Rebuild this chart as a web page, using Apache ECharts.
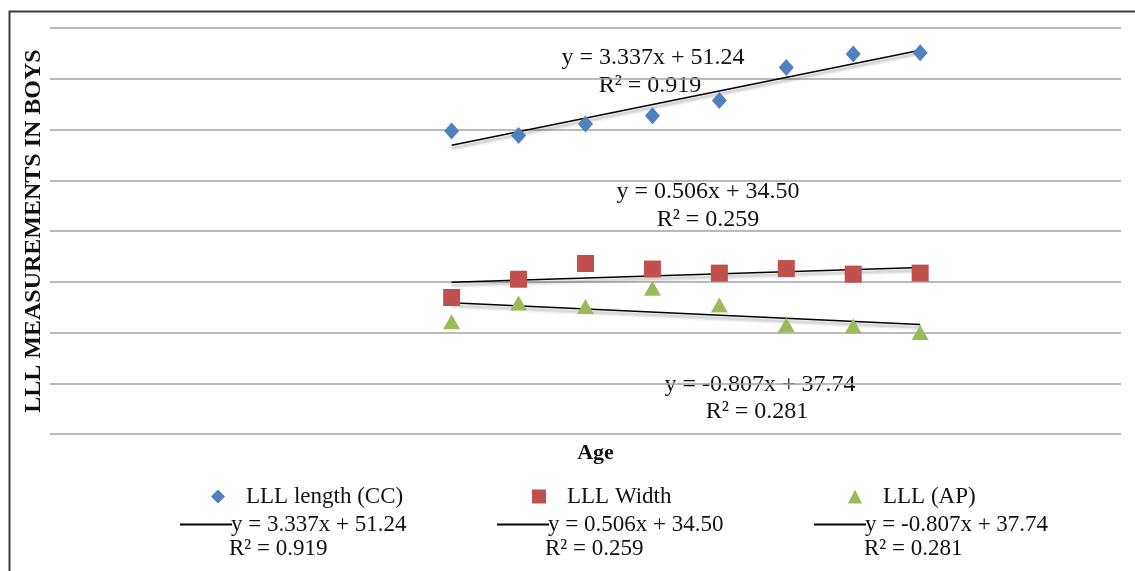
<!DOCTYPE html>
<html lang="en">
<head>
    <meta charset="UTF-8">
    <title>LLL measurements in boys</title>
    <script src="https://cdn.jsdelivr.net/npm/echarts@6/dist/echarts.min.js"></script>
    <style>
        html, body { margin: 0; padding: 0; background: #fff; }
    </style>
</head>
<body>
<div id="chart" style="width: 1135px; height: 571px"></div>
<script>
    // values (y axis 0..80, hidden labels)
    var ages = [1, 2, 3, 4, 5, 6, 7, 8];
    var lengthCC = [59.7, 58.8, 61.1, 62.7, 65.7, 72.2, 74.9, 75.1];
    var widthVals = [26.9, 30.5, 33.6, 32.5, 31.7, 32.6, 31.5, 31.7];
    var apVals = [22.1, 25.8, 25.1, 28.7, 25.4, 21.5, 21.3, 20.0];

    var seriesNames = ['LLL length (CC)', 'LLL Width', 'LLL (AP)'];
    var equations = ['y = 3.337x + 51.24', 'y = 0.506x + 34.50', 'y = -0.807x + 37.74'];
    var rSquared = ['R\u00b2 = 0.919', 'R\u00b2 = 0.259', 'R\u00b2 = 0.281'];

    var FONT = 'Liberation Serif';

    function pairs(ys) {
        return ages.map(function (a, i) { return [a, ys[i]]; });
    }

    // least squares line through the points, drawn from first to last age
    function trend(ys) {
        var n = ages.length, sx = 0, sy = 0, sxy = 0, sxx = 0;
        for (var i = 0; i < n; i++) {
            sx += ages[i]; sy += ys[i];
            sxy += ages[i] * ys[i]; sxx += ages[i] * ages[i];
        }
        var b = (n * sxy - sx * sy) / (n * sxx - sx * sx);
        var a = (sy - b * sx) / n;
        var x0 = ages[0], x1 = ages[n - 1];
        return [[x0, a + b * x0], [x1, a + b * x1]];
    }

    var myChart = echarts.init(document.getElementById('chart'));

    var trendStyle = {
        color: '#000',
        width: 1.5,
        shadowColor: 'rgba(0,0,0,0.4)',
        shadowBlur: 3,
        shadowOffsetY: 3
    };

    function trendSeries(name, ys) {
        return {
            name: name,
            type: 'line',
            data: trend(ys),
            showSymbol: false,
            silent: true,
            itemStyle: { color: '#000' },
            lineStyle: trendStyle,
            z: 3
        };
    }

    function markerLegend(name, left) {
        return {
            data: [name], left: left, top: 480,
            itemWidth: 14, itemHeight: 14,
            textStyle: { fontFamily: FONT, fontSize: 23, color: '#111', padding: [0, 0, 0, 16] }
        };
    }
    function lineLegend(name, left) {
        return {
            data: [{ name: name, icon: 'rect' }], left: left, top: 508,
            itemWidth: 52, itemHeight: 2,
            textStyle: { fontFamily: FONT, fontSize: 23, color: '#111', padding: [0, 0, 0, -6] }
        };
    }
    function note(text, x, y) {
        return {
            type: 'text', x: x, y: y,
            style: {
                text: text, fill: '#111',
                font: '24px "' + FONT + '"',
                textAlign: 'center', textVerticalAlign: 'middle'
            }
        };
    }
    function noteLeft(text, x, y) {
        var g = note(text, x, y);
        g.style.textAlign = 'left';
        g.style.font = '23px "' + FONT + '"';
        return g;
    }

    var option = {
        animation: false,
        grid: { left: 50, right: 14, top: 28, bottom: 137 },
        legend: [
            markerLegend(seriesNames[0], 206),
            markerLegend(seriesNames[1], 527),
            markerLegend(seriesNames[2], 843),
            lineLegend(equations[0], 175),
            lineLegend(equations[1], 492),
            lineLegend(equations[2], 809)
        ],
        xAxis: {
            type: 'value',
            min: -5, max: 11,
            name: 'Age',
            nameLocation: 'middle',
            nameGap: 8,
            nameTextStyle: { fontFamily: FONT, fontSize: 22, fontWeight: 'bold', color: '#111', padding: [0, 0, 0, 20] },
            axisLine: { show: false },
            axisTick: { show: false },
            axisLabel: { show: false },
            splitLine: { show: false }
        },
        yAxis: {
            type: 'value',
            min: 0, max: 80, interval: 10,
            name: 'LLL MEASUREMENTS IN BOYS',
            nameLocation: 'middle',
            nameGap: 4,
            nameTextStyle: { fontFamily: FONT, fontSize: 24, fontWeight: 'bold', color: '#111' },
            axisLine: { show: false },
            axisTick: { show: false },
            axisLabel: { show: false },
            splitLine: { lineStyle: { color: '#a3a3a3', width: 1.6 } }
        },
        graphic: [
            {
                type: 'rect', left: 7, top: 9, silent: true,
                shape: { width: 1300, height: 800 },
                style: { fill: 'none', stroke: '#3a3a3a', lineWidth: 2 }
            },
            note(equations[0], 653, 58),
            note(rSquared[0], 650, 86),
            note(equations[1], 708, 192),
            note(rSquared[1], 708, 220),
            note(equations[2], 760, 385),
            note(rSquared[2], 757, 412),
            noteLeft(rSquared[0], 229, 549),
            noteLeft(rSquared[1], 545, 549),
            noteLeft(rSquared[2], 864, 549)
        ],
        series: [
            {
                name: seriesNames[0], type: 'scatter', data: pairs(lengthCC),
                symbol: 'diamond', symbolSize: [15, 17],
                itemStyle: { color: '#4F81BD', opacity: 1 }, z: 4
            },
            {
                name: seriesNames[1], type: 'scatter', data: pairs(widthVals),
                symbol: 'rect', symbolSize: 17,
                itemStyle: { color: '#C0504D', opacity: 1 }, z: 4
            },
            {
                name: seriesNames[2], type: 'scatter', data: pairs(apVals),
                symbol: 'triangle', symbolSize: [17, 15],
                itemStyle: { color: '#9BBB59', opacity: 1 }, z: 4
            },
            trendSeries(equations[0], lengthCC),
            trendSeries(equations[1], widthVals),
            trendSeries(equations[2], apVals)
        ]
    };
    myChart.setOption(option);
</script>
</body>
</html>
